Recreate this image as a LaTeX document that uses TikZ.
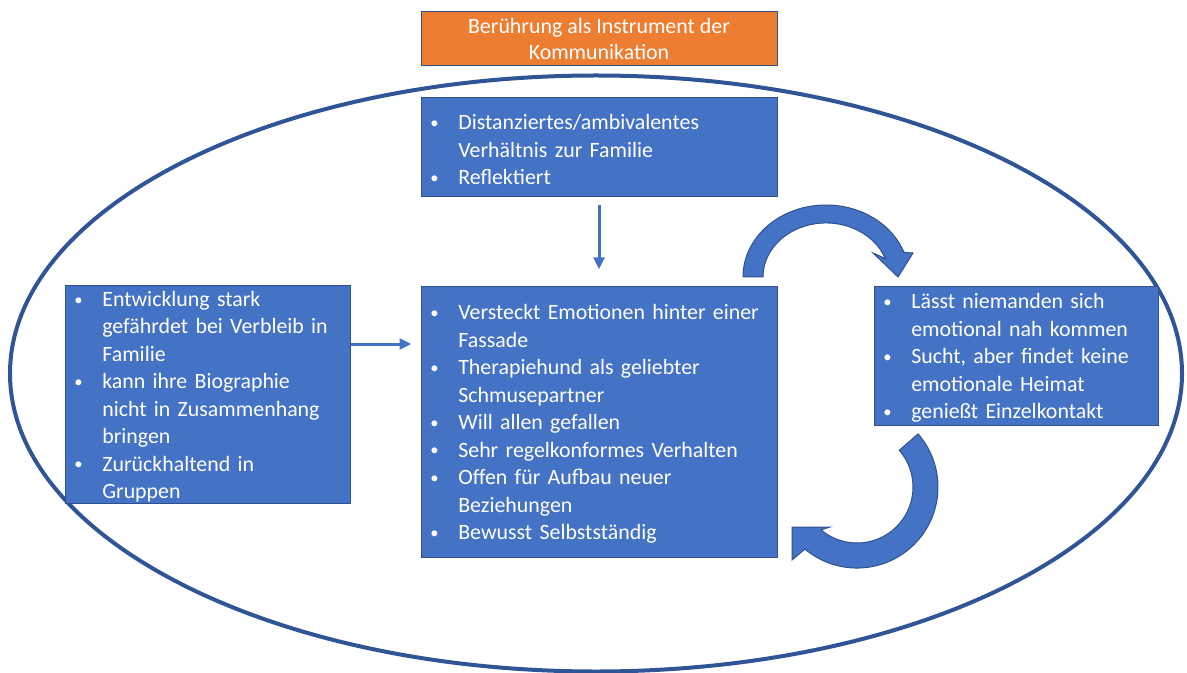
\documentclass[tikz,border=0pt]{standalone}
\usepackage{fontspec}
\setmainfont{Carlito}
\usepackage{xcolor}
\usetikzlibrary{arrows.meta, positioning, calc}

\definecolor{boxblue}{HTML}{4472C4}
\definecolor{edgeblue}{HTML}{2F528F}
\definecolor{ringblue}{HTML}{2F5597}
\definecolor{titleorange}{HTML}{ED7D31}

% one bullet point, following lines hang under the text
\newcommand{\bulitem}[1]{\par\noindent\hangindent=22pt\hangafter=1%
  \makebox[22pt][l]{\hspace{1pt}\raisebox{1pt}{\fontsize{12.5pt}{12.5pt}\selectfont\textbullet}}#1\par}
% start of a bullet list inside a box
\newcommand{\bullist}{\vspace*{-6pt}\raggedright\parskip=0pt}

\begin{document}
\begin{tikzpicture}[x=0.75pt, y=-0.75pt,
    every node/.style={font=\fontsize{16.4pt}{20.6pt}\selectfont, text=white},
    box/.style={rectangle, draw=edgeblue, line width=0.75pt, fill=boxblue,
        inner xsep=6pt, inner ysep=0pt, align=left},
    titlebox/.style={rectangle, draw=edgeblue, line width=0.75pt, fill=titleorange,
        minimum width=267pt, minimum height=40.5pt, inner sep=0pt, align=center,
        font=\fontsize{16.4pt}{19.5pt}\selectfont},
    link/.style={draw=boxblue, line width=2.25pt, -{Triangle[length=9pt, width=8pt]}},
    ring/.style={draw=ringblue, line width=3pt},
    bendarrow/.style={fill=boxblue, draw=edgeblue, line width=0.75pt}]
    \useasboundingbox (0,0) rectangle (1187,673);

    \draw[ring] (596,373.5) ellipse [x radius=586, y radius=298];

    \node[titlebox] (title) at (599,39) {Berührung als Instrument der\\Kommunikation};

    \node[box, text width=255pt, minimum height=74.25pt] (famil) at (599,147.5) {%
        \bullist
        \bulitem{Distanziertes/ambivalentes\newline Verhältnis zur Familie}
        \bulitem{Reflektiert}};

    \node[box, text width=255pt, minimum height=202.5pt] (mitte) at (599,422) {%
        \bullist
        \bulitem{Versteckt Emotionen hinter einer\newline Fassade}
        \bulitem{Therapiehund als geliebter\newline Schmusepartner}
        \bulitem{Will allen gefallen}
        \bulitem{Sehr regelkonformes Verhalten}
        \bulitem{Offen für Aufbau neuer\newline Beziehungen}
        \bulitem{Bewusst Selbstständig}};

    \node[box, text width=201.75pt, minimum height=162.75pt] (links) at (207.5,394.5) {%
        \bullist
        \bulitem{Entwicklung stark\newline gefährdet bei Verbleib in\newline Familie}
        \bulitem{kann ihre Biographie\newline nicht in Zusammenhang\newline bringen}
        \bulitem{Zurückhaltend in\newline Gruppen}};

    \node[box, text width=201pt, minimum height=103.5pt] (rechts) at (1016,356) {%
        \bullist
        \bulitem{Lässt niemanden sich\newline emotional nah kommen}
        \bulitem{Sucht, aber findet keine\newline emotionale Heimat}
        \bulitem{genießt Einzelkontakt}};

    \draw[link, shorten <=6pt, shorten >=12.75pt] (famil.south) -- (mitte.north);
    \draw[link, shorten >=6.75pt] (links.east |- 0,344) -- (mitte.west |- 0,344);

    % circular arrows
    \draw[bendarrow] (743,277) arc[start angle=180, end angle=340, x radius=83, y radius=72]
        -- (913,253) -- (898,277) -- (873,253) -- (885.2,258.5)
        arc[start angle=340, end angle=180, x radius=63, y radius=54] -- cycle;
    \draw[bendarrow] (918.1,433.9) arc[start angle=-41, end angle=130, radius=81]
        -- (792,560) -- (792,527) -- (830,527) -- (821,529.9)
        arc[start angle=130, end angle=-41, radius=56] -- cycle;
\end{tikzpicture}
\end{document}
